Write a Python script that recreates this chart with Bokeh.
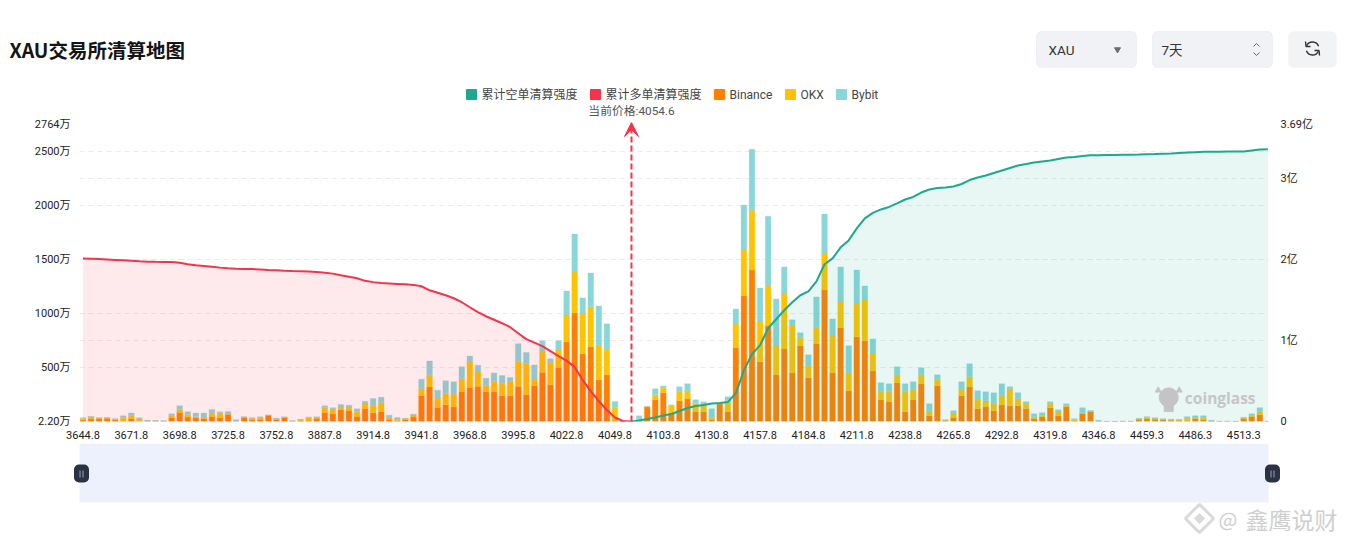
from bokeh.plotting import figure
from bokeh.layouts import column
from bokeh.models import (Range1d, LinearAxis, FixedTicker, Grid, Arrow, VeeHead, BoxAnnotation,
                          ColumnDataSource)
from bokeh.core.properties import value
from bokeh.embed import file_html
from bokeh.resources import INLINE

FONT = "Roboto, 'Noto Sans CJK SC'"
CJK = "'Noto Sans CJK SC'"

# --- data (bars in 万, cumulative lines in 亿) ---
binance = [18,28,28,31,18,12,31,12,3,3,3,37,86,43,34,31,49,34,68,3,40,21,21,58,21,40,3,6,12,31,
           86,74,110,104,49,123,83,95,21,9,21,43,243,322,132,157,135,279,316,325,279,279,239,239,325,249,332,454,341,500,
           738,1005,627,692,387,433,3,0,0,9,138,203,267,83,194,212,92,92,18,166,92,682,1162,1401,553,885,433,673,452,701,
           406,719,1217,452,867,286,784,747,470,203,184,360,92,203,350,55,332,9,37,240,323,120,138,101,157,148,148,120,28,46,
           129,55,138,9,74,92,3,1,1,2,2,23,28,23,18,14,12,9,28,18,3,1,2,1,28,46,65,1]
okx = [15,18,6,6,6,28,25,18,6,6,3,21,25,25,12,12,34,49,12,3,3,12,15,3,3,1,3,9,28,6,
       43,46,25,31,46,49,68,83,15,15,9,21,64,107,86,104,120,120,236,144,55,92,114,132,233,292,61,200,209,163,
       249,378,369,369,323,240,129,0,0,9,0,46,46,65,83,74,74,55,18,0,101,221,424,553,378,369,267,507,443,74,
       111,148,341,341,240,166,313,387,166,74,92,74,184,92,83,37,55,5,46,55,92,92,55,65,83,157,65,46,18,9,
       37,37,9,9,9,2,5,1,1,2,2,5,14,9,5,7,6,23,9,23,5,2,2,2,6,9,28,2]
bybit = [3,3,3,3,3,15,25,6,6,3,3,15,37,25,34,37,31,9,15,12,3,3,9,2,9,3,3,9,3,9,
         18,9,25,18,25,18,64,49,25,15,3,6,86,132,74,117,114,110,55,52,68,80,74,37,163,98,132,95,31,86,
         221,350,148,313,360,231,55,0,0,37,0,55,18,9,46,65,37,37,83,5,37,138,415,562,304,645,433,249,46,46,
         101,286,360,157,323,249,304,120,129,83,74,74,74,74,65,74,46,5,18,74,120,74,83,101,111,18,55,18,28,28,
         18,18,18,9,46,9,5,1,2,1,1,3,3,5,5,3,3,14,18,14,5,1,1,1,7,18,37,1]

long_cum = [2.013,2.009,2.004,1.999,1.994,1.989,1.984,1.977,1.973,1.970,1.969,1.967,1.958,1.940,1.927,1.920,1.910,1.899,1.890,1.885,
            1.883,1.881,1.876,1.869,1.866,1.861,1.857,1.855,1.851,1.846,1.837,1.825,1.804,1.786,1.767,1.736,1.720,1.708,1.703,1.698,
            1.693,1.686,1.669,1.619,1.589,1.558,1.521,1.472,1.410,1.349,1.299,1.256,1.213,1.164,1.090,1.016,0.973,0.930,0.868,0.807,
            0.751,0.671,0.511,0.376,0.252,0.142,0.049,0.006,0.0]
short_cum = [0.0,0.012,0.031,0.049,0.074,0.092,0.129,0.166,0.191,0.203,0.222,0.228,0.240,0.351,0.634,0.831,0.942,1.151,1.262,1.373,
             1.472,1.558,1.607,1.730,1.940,2.013,2.149,2.235,2.383,2.506,2.574,2.617,2.648,2.691,2.740,2.771,2.826,2.863,2.882,2.888,
             2.900,2.931,2.980,3.011,3.036,3.067,3.097,3.128,3.159,3.177,3.196,3.208,3.220,3.239,3.257,3.264,3.276,3.286,3.287,3.288,
             3.289,3.291,3.292,3.294,3.298,3.300,3.304,3.307,3.313,3.319,3.324,3.328,3.329,3.330,3.331,3.331,3.331,3.344,3.357,3.360]
assert len(binance) == len(okx) == len(bybit) == 148, (len(binance), len(okx), len(bybit))
assert len(long_cum) == 69 and len(short_cum) == 80, (len(long_cum), len(short_cum))

price_labels = ["3644.8","3671.8","3698.8","3725.8","3752.8","3887.8","3914.8","3941.8","3968.8","3995.8","4022.8","4049.8",
                "4103.8","4130.8","4157.8","4184.8","4211.8","4238.8","4265.8","4292.8","4319.8","4346.8","4459.3","4486.3","4513.3"]
left_ticks = [2.2, 500, 1000, 1500, 2000, 2500, 2764]
left_labels = ["2.20万", "500万", "1000万", "1500万", "2000万", "2500万", "2764万"]
right_ticks = [0, 1, 2, 3, 3.69]
right_labels = ["0", "1亿", "2亿", "3亿", "3.69亿"]
current_index = 68.05
current_label = "当前价格:4054.6"

GREEN, RED = "#1CA98F", "#F6334A"
C_BIN, C_OKX, C_BYB = "#FF8000", "#FFC300", "#8AD7DA"
legend_names = ["累计空单清算强度", "累计多单清算强度", "Binance", "OKX", "Bybit"]
legend_colors = [GREEN, RED, C_BIN, C_OKX, C_BYB]

# --- header: page pixel coordinates ---
W = 1339
H_BOT = 117
head = figure(width=W, height=H_BOT, x_range=Range1d(0, W), y_range=Range1d(H_BOT, 0), frame_align=False,
              output_backend="svg", toolbar_location=None, min_border=0, outline_line_color=None)
head.axis.visible = False
head.grid.visible = False
head.text([9], [49], ["XAU交易所清算地图"], text_font=value(CJK), text_font_size="19.5px", text_font_style="bold",
          text_color="#141414", text_baseline="middle")
for l, r, fc, lc in [(1036, 1136, "#F0F2F5", "#D8E0E6"), (1152, 1272, "#F0F2F5", "#DCDFE3"), (1288, 1336, "#F2F3F5", "#F2F3F5")]:
    head.add_layout(BoxAnnotation(left=l, right=r, top=31, bottom=67, fill_color=fc, fill_alpha=1, line_color=lc,
                                  border_radius=5, level="underlay"))
head.text([1048, 1161], [49, 49], ["XAU", "7天"], text_font=value(FONT), text_font_size="13.5px", text_color="#333333",
          text_baseline="middle")
head.scatter([1117], [49], marker="inverted_triangle", size=6, color="#6E6E6E")
head.multi_line([[1253, 1256, 1259], [1253, 1256, 1259]], [[46, 43, 46], [52, 55, 52]], line_color="#666666", line_width=1)
head.arc([1312], [48], [6.5], [0.35], [2.7], line_color="#333333", line_width=1.4)
head.arc([1312], [48], [6.5], [3.5], [5.85], line_color="#333333", line_width=1.4)
head.multi_line([[1305, 1305.5, 1310], [1319, 1318.5, 1314]], [[41, 46, 46], [55, 50, 50]], line_color="#333333", line_width=1.4)
leg_sq = [471, 595, 719, 790, 841]
leg_tx = [481, 605, 729, 800, 851]
head.scatter(leg_sq, [94] * 5, marker="square", size=10, color=legend_colors)
head.text(leg_tx, [94] * 5, legend_names, text_font=value(FONT), text_font_size="12px", text_color="#444444",
          text_baseline="middle")
head.text([631], [110], [current_label], text_font=value(FONT), text_font_size="11.8px", text_color="#555555",
          text_align="center", text_baseline="middle")

# --- main chart ---
N = len(binance)
xs = list(range(N))
src = ColumnDataSource(dict(x=xs, binance=binance, okx=okx, bybit=bybit))
p = figure(width=W, height=326, x_range=Range1d(-0.43, 147.08), y_range=Range1d(left_ticks[0], left_ticks[-1]),
           frame_align=False, output_backend="svg", toolbar_location=None, outline_line_color=None,
           min_border_left=79, min_border_right=W - 1268, min_border_top=5, min_border_bottom=22)
p.extra_y_ranges = {"cum": Range1d(right_ticks[0], right_ticks[-1])}
p.xgrid.visible = False
p.ygrid.ticker = FixedTicker(ticks=left_ticks[1:])
p.ygrid.grid_line_color = "#EBEBEB"
p.ygrid.grid_line_dash = "5 4"
p.add_layout(Grid(dimension=1, ticker=FixedTicker(ticks=right_ticks[1:]), y_range_name="cum",
                  grid_line_color="#EBEBEB", grid_line_dash="5 4"))

def style(ax):
    ax.axis_line_color = None
    ax.major_tick_line_color = None
    ax.minor_tick_line_color = None
    ax.major_tick_in = 0
    ax.major_tick_out = 0
    ax.minor_tick_in = 0
    ax.minor_tick_out = 0
    ax.major_label_text_font = FONT
    ax.major_label_text_font_size = "11px"
    ax.major_label_text_color = "#222222"

p.xaxis.ticker = FixedTicker(ticks=xs[::6])
p.xaxis.major_label_overrides = {i: t for i, t in zip(xs[::6], price_labels)}
p.xaxis.major_label_standoff = 9
p.yaxis.ticker = FixedTicker(ticks=left_ticks)
p.yaxis.major_label_overrides = dict(zip(left_ticks, left_labels))
p.yaxis.major_label_standoff = 9
style(p.xaxis[0]); style(p.yaxis[0])
rax = LinearAxis(y_range_name="cum", ticker=FixedTicker(ticks=right_ticks),
                 major_label_overrides=dict(zip(right_ticks, right_labels)), major_label_standoff=12)
style(rax)
p.add_layout(rax, "right")

p.vbar_stack(["binance", "okx", "bybit"], x="x", source=src, width=0.7, color=[C_BIN, C_OKX, C_BYB], line_alpha=0.3, line_width=1)
xl = xs[:len(long_cum)]
xg = xs[N - len(short_cum):]
p.varea(xl, [0] * len(xl), long_cum, y_range_name="cum", fill_color=RED, fill_alpha=0.105)
p.varea(xg, [0] * len(xg), short_cum, y_range_name="cum", fill_color=GREEN, fill_alpha=0.1)
p.line(xl, long_cum, y_range_name="cum", line_color=RED, line_width=2)
p.line(xg, short_cum, y_range_name="cum", line_color=GREEN, line_width=2)

p.add_layout(Arrow(end=VeeHead(size=14, fill_color=RED, line_color=RED, line_width=1),
                   x_start=current_index, x_end=current_index, y_start=left_ticks[0], y_end=left_ticks[-1],
                   line_color=RED, line_width=2, line_dash="6 3"))

# coinglass watermark
p.scatter([134.7], [225], marker="circle", size=19, color="#C4C4C4")
p.scatter([134.7], [135], marker="square", size=9, color="#C4C4C4")
p.scatter([133.4, 136.0], [290, 290], marker="triangle", size=6, color="#C4C4C4")
p.text([136.7], [218], ["coinglass"], text_font=value("Open Sans"), text_font_size="15.5px", text_font_style="bold",
       text_color="#C6C6C6", text_baseline="middle")

# --- zoom slider strip and outer watermark: page pixel coordinates ---
S_TOP, S_BOT = 443, 536
slid = figure(width=W, height=S_BOT - S_TOP, x_range=Range1d(0, W), y_range=Range1d(S_BOT, S_TOP), frame_align=False,
              output_backend="svg", toolbar_location=None, min_border=0, outline_line_color=None)
slid.axis.visible = False
slid.grid.visible = False
slid.add_layout(BoxAnnotation(left=79, right=1268, top=443, bottom=502, fill_color="#EDF1FD", fill_alpha=1,
                              line_color=None, level="underlay"))
for cx in (81, 1272):
    slid.add_layout(BoxAnnotation(left=cx - 7.5, right=cx + 7.5, top=464, bottom=482, fill_color="#2B3245", fill_alpha=1,
                                  line_color=None, border_radius=5, level="underlay"))
    slid.multi_line([[cx - 1.5, cx - 1.5], [cx + 1.5, cx + 1.5]], [[470, 477], [470, 477]], line_color="#9AA0AC", line_width=1)
slid.scatter([1199], [518], marker="square", angle=0.785, size=20, fill_color=None, line_color="#DADADA", line_width=3)
slid.scatter([1199], [518], marker="square", angle=0.785, size=7, color="#DADADA")
slid.text([1218], [518], ["@"], text_font=value(CJK), text_font_size="20px", text_color="#CFCFCF", text_baseline="middle")
slid.text([1245], [518], ["鑫鹰说财"], text_font=value(CJK), text_font_size="23px", text_color="#CFCFCF", text_baseline="middle")

layout = column(head, p, slid, spacing=0)
open("out.html", "w").write(file_html(layout, INLINE))
